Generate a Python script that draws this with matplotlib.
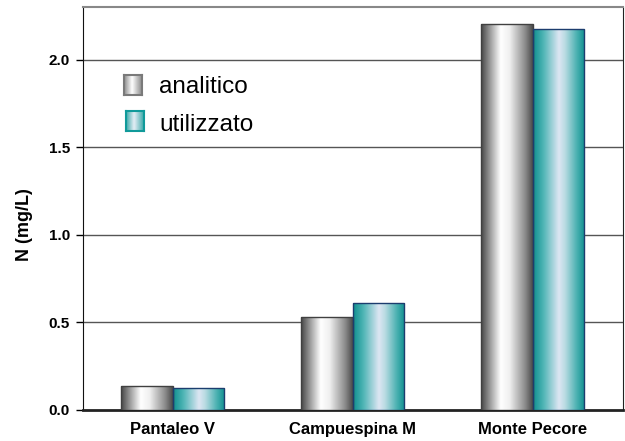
import numpy as np
import matplotlib
matplotlib.use("Agg")
import matplotlib.pyplot as plt
from matplotlib.colors import LinearSegmentedColormap
from matplotlib.patches import Rectangle

plt.rcParams['font.family'] = ['Liberation Sans', 'DejaVu Sans']

# dati
siti = ['Pantaleo V', 'Campuespina M', 'Monte Pecore']
analitico = [0.137, 0.53, 2.204]
utilizzato = [0.124, 0.61, 2.177]
serie_nomi = ['analitico', 'utilizzato']
y_ticks = [0.0, 0.5, 1.0, 1.5, 2.0]

# sfumature "cilindriche" delle barre
cmap_grigio = LinearSegmentedColormap.from_list('grigio', [
    (0.0, '#454545'), (0.15, '#8f8f8f'), (0.38, '#ffffff'), (0.55, '#f0f0f0'),
    (0.85, '#8c8c8c'), (1.0, '#4a4a4a')])
cmap_teal = LinearSegmentedColormap.from_list('teal', [
    (0.0, '#0f8f8f'), (0.2, '#4fb5b5'), (0.5, '#dde6f3'), (0.62, '#b9dbe2'),
    (0.85, '#48b0b0'), (1.0, '#109090')])
# versione più chiara per i quadratini della legenda
cmap_grigio_leg = LinearSegmentedColormap.from_list('grigio_leg', [
    (0.0, '#8a8a8a'), (0.45, '#ffffff'), (1.0, '#8a8a8a')])
cmap_teal_leg = LinearSegmentedColormap.from_list('teal_leg', [
    (0.0, '#3aa8a8'), (0.45, '#e6eef6'), (1.0, '#3aa8a8')])
grad = np.linspace(0, 1, 256).reshape(1, -1)


def barra_sfumata(ax, x0, larghezza, altezza, cmap, bordo):
    ax.imshow(grad, cmap=cmap, aspect='auto', extent=(x0, x0 + larghezza, 0, altezza),
              origin='lower', zorder=3, interpolation='bicubic')
    ax.add_patch(Rectangle((x0, 0), larghezza, altezza, facecolor='none',
                           edgecolor=bordo, linewidth=1.0, zorder=4))


fig = plt.figure(figsize=(6.25, 4.41), dpi=100)
ax = fig.add_axes([0.132, 0.0703, 0.8643, 0.9127])

w = 0.287
x = np.arange(len(siti))
for i in x:
    barra_sfumata(ax, i - w, w, analitico[i], cmap_grigio, '#404040')
    barra_sfumata(ax, i, w, utilizzato[i], cmap_teal, '#1c3d6e')

ax.set_xlim(-0.5, 2.5)
ax.set_ylim(0, 2.3)
ax.set_yticks(y_ticks)
ax.set_yticklabels([f'{v:.1f}' for v in y_ticks], fontsize=11, fontweight='bold')
ax.set_xticks(x)
ax.set_xticklabels(siti, fontsize=12, fontweight='bold')
ax.tick_params(axis='x', length=0, pad=9)
ax.tick_params(axis='y', length=5, width=1, pad=4, direction='out')
ax.set_ylabel('N (mg/L)', fontsize=13, fontweight='bold')
ax.yaxis.set_label_coords(-0.092, 0.46)

for v in y_ticks[1:]:
    ax.axhline(v, color='#555555', linewidth=1.0, zorder=1)

ax.spines['bottom'].set_linewidth(2)
ax.spines['bottom'].set_color('#222222')
ax.spines['left'].set_color('#111111')
ax.spines['top'].set_color('#888888')
ax.spines['top'].set_linewidth(1.5)
ax.spines['right'].set_color('#222222')

# legenda disegnata a mano con i quadratini sfumati
leg_quadrati = [(0.199, 0.7846), (0.202, 0.703)]
leg_testo = [0.787, 0.692]
for nome, cmap, bordo, (qx, qy), ty in zip(serie_nomi, [cmap_grigio_leg, cmap_teal_leg],
                                          ['#7a7a7a', '#109a9a'], leg_quadrati, leg_testo):
    lax = fig.add_axes([qx, qy, 0.028, 0.0454])
    lax.imshow(grad, cmap=cmap, aspect='auto', interpolation='bicubic')
    lax.set_xticks([])
    lax.set_yticks([])
    for s in lax.spines.values():
        s.set_color(bordo)
        s.set_linewidth(1.5)
    ax.text(0.1425, ty, nome, transform=ax.transAxes, fontsize=17.5,
            va='baseline', ha='left', zorder=5)

fig.savefig('out.png', dpi=100)
